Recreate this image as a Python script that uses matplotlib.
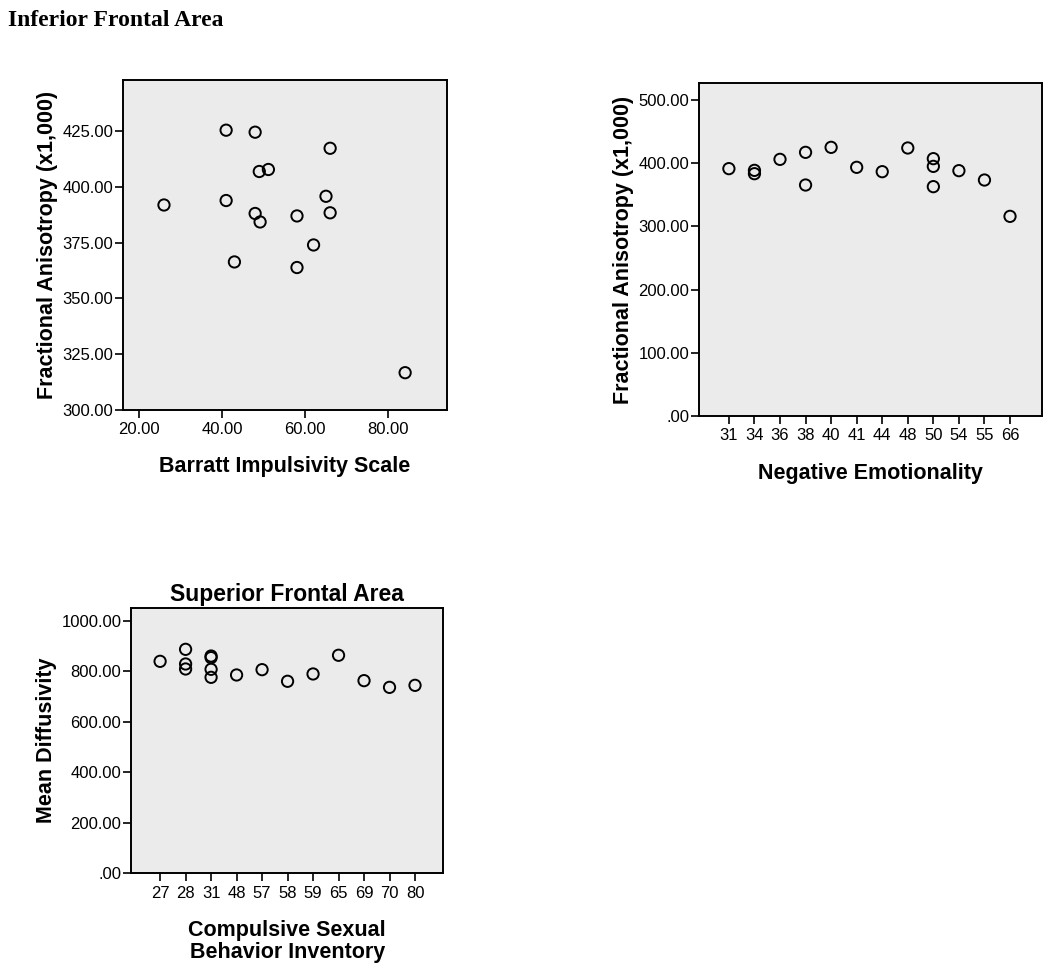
import numpy as np
import matplotlib
matplotlib.use("Agg")
import matplotlib.pyplot as plt
from matplotlib.ticker import FuncFormatter

plt.rcParams["font.family"] = ["Liberation Sans", "DejaVu Sans"]

# ── Data ──────────────────────────────────────────────────────────────────────
# Panel 1: Barratt Impulsivity Scale vs FA (x1,000)
bis_score = [26.0, 41.0, 48.0, 66.1, 49.0, 51.2, 65.1, 41.0,
             48.0, 49.2, 66.1, 58.1, 62.1, 43.0, 58.1, 84.2]
bis_fa = [391.8, 425.3, 424.4, 417.2, 406.8, 407.7, 395.7, 393.8,
          388.0, 384.2, 388.3, 386.9, 373.9, 366.3, 363.8, 316.7]

# Panel 2: Negative Emotionality (ordinal categories) vs FA (x1,000)
ne_labels = ["31", "34", "36", "38", "40", "41", "44", "48", "50", "54", "55", "66"]
ne_score = ["31", "34", "34", "36", "38", "38", "40", "41",
            "44", "48", "50", "50", "50", "54", "55", "66"]
ne_fa = [391.4, 388.7, 383.4, 406.1, 417.2, 365.5, 425.1, 393.5,
         386.6, 424.1, 407.2, 395.0, 362.9, 388.2, 373.4, 315.9]

# Panel 3: Compulsive Sexual Behavior Inventory (ordinal) vs Mean Diffusivity
csbi_labels = ["27", "28", "31", "48", "57", "58", "59", "65", "69", "70", "80"]
csbi_score = ["27", "28", "28", "28", "31", "31", "31", "31",
              "48", "57", "58", "59", "65", "69", "70", "80"]
csbi_md = [839.0, 886.5, 828.5, 808.7, 860.0, 853.6, 807.4, 775.7,
           785.0, 806.0, 760.0, 789.0, 863.0, 762.5, 736.0, 744.0]

# ── Styling helpers ───────────────────────────────────────────────────────────
BG = "#EBEBEB"
TICK_FS = 12
LABEL_FS = 15.5


def spss_fmt(v, pos=None):
    s = f"{v:.2f}"
    return s[1:] if s.startswith("0.") else s


def style(ax):
    ax.set_facecolor(BG)
    for sp in ax.spines.values():
        sp.set_linewidth(1.4)
        sp.set_color("black")
    ax.tick_params(axis="both", direction="out", length=6, width=1.2,
                   labelsize=TICK_FS, colors="black", pad=1)
    ax.tick_params(axis="x", pad=3)
    ax.yaxis.set_major_formatter(FuncFormatter(spss_fmt))


def circles(ax, x, y):
    ax.scatter(x, y, s=66, facecolors="none", edgecolors="black",
               linewidths=1.4, zorder=3, clip_on=False)


fig = plt.figure(figsize=(10.5, 9.69), dpi=100)

fig.text(0.008, 0.979, "Inferior Frontal Area", family="Liberation Serif",
         fontweight="bold", fontsize=17, ha="left", va="center")

# ── Panel 1 ──────────────────────────────────────────────────────────────────
ax1 = fig.add_axes([0.1171, 0.5769, 0.3086, 0.3406])
circles(ax1, bis_score, bis_fa)
ax1.set_xlim(16.1, 94.3)
ax1.set_ylim(300, 447.8)
ax1.set_xticks([20, 40, 60, 80])
ax1.set_yticks([300, 325, 350, 375, 400, 425])
style(ax1)
ax1.xaxis.set_major_formatter(FuncFormatter(spss_fmt))
ax1.set_xlabel("Barratt Impulsivity Scale", fontsize=LABEL_FS, fontweight="bold", labelpad=13)
ax1.set_ylabel("Fractional Anisotropy (x1,000)", fontsize=LABEL_FS, fontweight="bold", labelpad=3)

# ── Panel 2 ──────────────────────────────────────────────────────────────────
ax2 = fig.add_axes([0.6657, 0.5707, 0.3264, 0.3433])
ne_pos = {lab: i for i, lab in enumerate(ne_labels)}
circles(ax2, [ne_pos[s] for s in ne_score], ne_fa)
ax2.set_xlim(-1.17, len(ne_labels) - 1 + 1.24)
ax2.set_ylim(0, 526.4)
ax2.set_xticks(range(len(ne_labels)))
ax2.set_xticklabels(ne_labels)
ax2.set_yticks([0, 100, 200, 300, 400, 500])
style(ax2)
ax2.set_xlabel("Negative Emotionality", fontsize=LABEL_FS, fontweight="bold", labelpad=14)
ax2.set_ylabel("Fractional Anisotropy (x1,000)", fontsize=LABEL_FS, fontweight="bold", labelpad=3)

# ── Panel 3 ──────────────────────────────────────────────────────────────────
ax3 = fig.add_axes([0.1248, 0.0988, 0.2974, 0.2741])
cs_pos = {lab: i for i, lab in enumerate(csbi_labels)}
circles(ax3, [cs_pos[s] for s in csbi_score], csbi_md)
ax3.set_xlim(-1.14, len(csbi_labels) - 1 + 1.11)
ax3.set_ylim(0, 1051.5)
ax3.set_xticks(range(len(csbi_labels)))
ax3.set_xticklabels(csbi_labels)
ax3.set_yticks([0, 200, 400, 600, 800, 1000])
style(ax3)
ax3.set_title("Superior Frontal Area", fontsize=16.5, fontweight="bold", pad=5)
ax3.set_xlabel("Compulsive Sexual\nBehavior Inventory", fontsize=LABEL_FS,
               fontweight="bold", labelpad=14, linespacing=1.05)
ax3.set_ylabel("Mean Diffusivity", fontsize=LABEL_FS, fontweight="bold", labelpad=3)

fig.savefig("out.png", dpi=100)
